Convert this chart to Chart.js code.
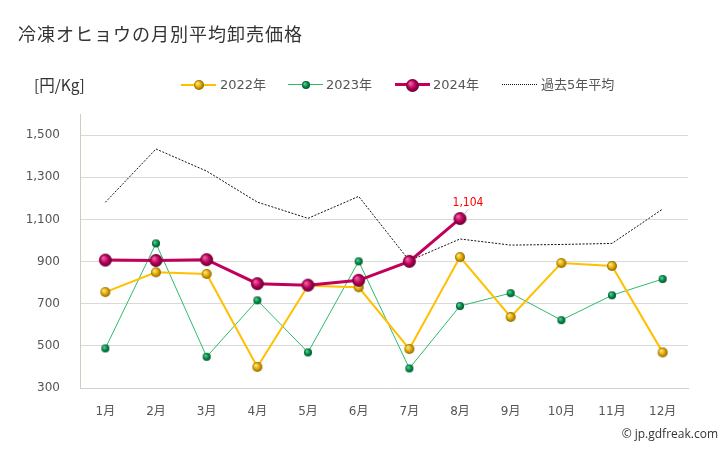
<!DOCTYPE html>
<html lang="ja">
<head>
<meta charset="UTF-8">
<title>冷凍オヒョウの月別平均卸売価格</title>
<script src="https://cdn.jsdelivr.net/npm/chart.js"></script>
<style>
    body {
        margin: 0;
        background: #ffffff;
        font-family: "DejaVu Sans", "Noto Sans CJK JP", sans-serif;
    }
    .wrap {
        position: relative;
        width: 728px;
        height: 450px;
        overflow: hidden;
    }
    .title {
        position: absolute;
        left: 18px;
        top: 20px;
        font-family: "Noto Sans CJK JP", sans-serif;
        font-size: 18px;
        letter-spacing: 1px;
        color: #333333;
    }
    .unit {
        position: absolute;
        left: 34px;
        top: 73px;
        font-family: "Noto Sans CJK JP", sans-serif;
        font-size: 15.5px;
        color: #333333;
    }
    .legend {
        position: absolute;
        top: 76px;
        left: 0;
        height: 18px;
    }
    .item {
        position: absolute;
        top: 0;
        font-family: "DejaVu Sans", "Noto Sans CJK JP", sans-serif;
        font-size: 13px;
        color: #555555;
        white-space: nowrap;
        line-height: 18px;
    }
    .sym {
        position: absolute;
        top: 9px;
        width: 35px;
    }
    .copy {
        position: absolute;
        right: 10px;
        bottom: 8px;
        font-family: "Open Sans", sans-serif;
        font-size: 12px;
        color: #333333;
    }
    canvas { position: absolute; left: 0; top: 0; }
</style>
</head>
<body>
<div class="wrap">
    <canvas id="priceChart" width="728" height="450"></canvas>
    <div class="title">冷凍オヒョウの月別平均卸売価格</div>
    <div class="unit">[円/Kg]</div>
    <div class="legend" id="legend"></div>
    <div class="copy">© jp.gdfreak.com</div>
</div>

<script>
    const months = ['1月', '2月', '3月', '4月', '5月', '6月', '7月', '8月', '9月', '10月', '11月', '12月'];
    const price2022 = [755, 849, 841, 400, 785, 778, 485, 921, 637, 893, 879, 469];
    const price2023 = [488, 986, 448, 716, 469, 901, 393, 689, 750, 622, 740, 817];
    const price2024 = [907, 905, 909, 795, 788, 811, 901, 1104, null, null, null, null];
    const avg5y = [1181, 1434, 1329, 1182, 1105, 1209, 904, 1007, 978, 981, 986, 1149];
    const yTicks = [300, 500, 700, 900, 1100, 1300, 1500];

    // little shaded balls for the markers
    function ball(r, light, base, dark) {
        const c = document.createElement('canvas');
        const s = Math.ceil(r * 2 + 2);
        c.width = s;
        c.height = s;
        const x = c.getContext('2d');
        const m = s / 2;
        const g = x.createRadialGradient(m - r * 0.35, m - r * 0.35, r * 0.1, m, m, r);
        g.addColorStop(0, light);
        g.addColorStop(0.55, base);
        g.addColorStop(1, dark);
        x.fillStyle = g;
        x.beginPath();
        x.arc(m, m, r, 0, Math.PI * 2);
        x.fill();
        return c;
    }

    const ball2022 = ball(5, '#ffe680', '#e0a800', '#8a6400');
    const ball2023 = ball(4, '#60d090', '#00904a', '#00502a');
    const ball2024 = ball(6.5, '#f060a0', '#b8005a', '#600030');

    const series = [
        { label: '2022年', data: price2022, color: '#ffc000', width: 2, img: ball2022, dash: [], order: 1 },
        { label: '2023年', data: price2023, color: '#2dbb6c', width: 1, img: ball2023, dash: [], order: 2 },
        { label: '2024年', data: price2024, color: '#c0005a', width: 3, img: ball2024, dash: [], order: 0 },
        { label: '過去5年平均', data: avg5y, color: '#111111', width: 1, img: false, dash: [2, 1.5], order: 3 }
    ];

    // legend
    const legendPos = [
        { sym: 181, text: 220 },
        { sym: 288, text: 326 },
        { sym: 395, text: 433 },
        { sym: 502, text: 541 }
    ];
    const legend = document.getElementById('legend');
    series.forEach(function(s, i) {
        const item = document.createElement('div');
        item.className = 'item';
        item.style.left = legendPos[i].text + 'px';
        item.textContent = s.label;
        legend.appendChild(item);

        const sym = document.createElement('div');
        sym.className = 'sym';
        sym.style.left = legendPos[i].sym + 'px';
        const line = document.createElement('div');
        line.style.position = 'absolute';
        line.style.left = '0';
        line.style.width = '35px';
        line.style.top = (-Math.round(s.width / 2)) + 'px';
        if (s.dash.length) {
            line.style.borderTop = '1px dotted ' + s.color;
        } else {
            line.style.height = s.width + 'px';
            line.style.background = s.color;
        }
        sym.appendChild(line);
        if (s.img) {
            const dot = document.createElement('canvas');
            dot.width = s.img.width;
            dot.height = s.img.height;
            dot.getContext('2d').drawImage(s.img, 0, 0);
            dot.style.position = 'absolute';
            dot.style.left = (17.5 - s.img.width / 2) + 'px';
            dot.style.top = (-s.img.height / 2) + 'px';
            sym.appendChild(dot);
        }
        legend.appendChild(sym);
    });

    // red value label for the latest 2024 point
    const lastLabel = {
        id: 'lastLabel',
        afterDatasetsDraw(chart) {
            const idx = 7;
            const meta = chart.getDatasetMeta(2);
            const pt = meta.data[idx];
            if (!pt) return;
            const ctx = chart.ctx;
            ctx.save();
            ctx.strokeStyle = '#bbbbbb';
            ctx.lineWidth = 1;
            ctx.beginPath();
            ctx.moveTo(pt.x + 4, pt.y - 4);
            ctx.lineTo(pt.x + 8, pt.y - 9);
            ctx.stroke();
            ctx.fillStyle = '#ff0000';
            ctx.font = '12px "Liberation Sans Narrow", "DejaVu Sans Condensed", sans-serif';
            ctx.textAlign = 'center';
            ctx.textBaseline = 'middle';
            ctx.fillText(price2024[idx].toLocaleString('en-US'), pt.x + 8, pt.y - 16);
            ctx.restore();
        }
    };

    const ctx = document.getElementById('priceChart').getContext('2d');
    new Chart(ctx, {
        type: 'line',
        data: {
            labels: months,
            datasets: series.map(function(s) {
                return {
                    label: s.label,
                    data: s.data,
                    borderColor: s.color,
                    backgroundColor: s.color,
                    borderWidth: s.width,
                    borderDash: s.dash,
                    pointStyle: s.img ? s.img : 'circle',
                    pointRadius: s.img ? 5 : 0,
                    pointHoverRadius: s.img ? 5 : 0,
                    tension: 0,
                    fill: false,
                    order: s.order
                };
            })
        },
        options: {
            responsive: false,
            animation: false,
            layout: {
                padding: { top: 114, right: 40, bottom: 0, left: 0 }
            },
            scales: {
                x: {
                    offset: true,
                    grid: { display: false, drawTicks: false },
                    border: { color: '#d0d0d0' },
                    ticks: {
                        color: '#555555',
                        padding: 17,
                        font: { family: '"DejaVu Sans", "Noto Sans CJK JP", sans-serif', size: 12 }
                    },
                    afterFit: function(scale) { scale.height = 62; }
                },
                y: {
                    min: 300,
                    max: 1600,
                    afterBuildTicks: function(scale) {
                        scale.ticks = yTicks.map(function(v) { return { value: v }; });
                    },
                    grid: { color: '#d9d9d9', drawTicks: false },
                    border: { color: '#d0ccc0' },
                    ticks: {
                        color: '#555555',
                        padding: 20,
                        font: { family: '"DejaVu Sans", sans-serif', size: 12 },
                        callback: function(v) { return v.toLocaleString('en-US'); }
                    },
                    afterFit: function(scale) { scale.width = 80; }
                }
            },
            plugins: {
                legend: { display: false },
                tooltip: { enabled: false }
            }
        },
        plugins: [lastLabel]
    });
</script>
</body>
</html>
